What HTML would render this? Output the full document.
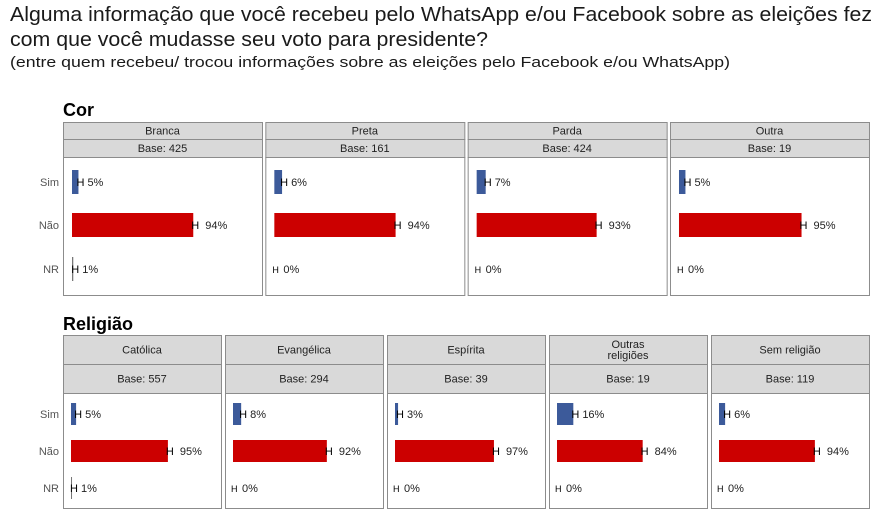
<!DOCTYPE html>
<html><head><meta charset="utf-8"><style>
body{margin:0;background:#fff;}
svg{display:block;font-family:"Liberation Sans",sans-serif;}
</style></head><body>
<svg id="chart" width="891" height="517" viewBox="0 0 891 517">
<text x="10" y="21" font-size="20" fill="#1a1a1a" textLength="862" lengthAdjust="spacingAndGlyphs">Alguma informação que você recebeu pelo WhatsApp e/ou Facebook sobre as eleições fez</text>
<text x="10" y="46" font-size="20" fill="#1a1a1a" textLength="478" lengthAdjust="spacingAndGlyphs">com que você mudasse seu voto para presidente?</text>
<text x="10" y="67" font-size="15" fill="#1a1a1a" textLength="720" lengthAdjust="spacingAndGlyphs">(entre quem recebeu/ trocou informações sobre as eleições pelo Facebook e/ou WhatsApp)</text>
<text x="63" y="116" font-size="18" font-weight="bold" fill="#000">Cor</text>
<text x="63" y="330" font-size="18" font-weight="bold" fill="#000">Religião</text>
<g id="plots"></g>
</svg>
<script>
const rowLabels = ["Sim","Não","NR"];
const corCats = ["Branca","Preta","Parda","Outra"];
const corBases = [425,161,424,19];
const corSim = [5,6,7,5];
const corNao = [94,94,93,95];
const corNR = [1,0,0,0];
const relCats = [["Católica"],["Evangélica"],["Espírita"],["Outras","religiões"],["Sem religião"]];
const relBases = [557,294,39,19,119];
const relSim = [5,8,3,16,6];
const relNao = [95,92,97,84,94];
const relNR = [1,0,0,0,0];

const NS="http://www.w3.org/2000/svg";
const root=document.getElementById('plots');
function mk(tag,attrs,parent,text){const e=document.createElementNS(NS,tag);for(const k in attrs)e.setAttribute(k,attrs[k]);if(text!==undefined)e.textContent=text;(parent||root).appendChild(e);return e;}

function group(cfg){
  const {cats,bases,sim,nao,nr,x0,pw,gap,h1y,h1h,h2h,plotBot,rowY,barH,scale,inset,prefix}=cfg;
  rowY.forEach((y,i)=>{
    const t=mk('text',{x:x0-4,y:y+4,'font-size':11,fill:'#555','text-anchor':'end'},null,rowLabels[i]);
    
    
  });
  cats.forEach((c,j)=>{
    const x=x0+j*(pw+gap);
    const g=mk('g',{});
    
    
    const hdr=mk('rect',{x:x+0.5,y:h1y+0.5,width:pw,height:h1h,fill:'#d9d9d9',stroke:'#8c8c8c'},g);
    
    
    const lines=Array.isArray(c)?c:[c];
    lines.forEach((l,k)=>{
      const t=mk('text',{x:x+pw/2,y:h1y+h1h/2+4+(k-(lines.length-1)/2)*11,'font-size':11,fill:'#222','text-anchor':'middle'},g,l);
      
      
    });
    const b=mk('rect',{x:x+0.5,y:h1y+h1h+0.5,width:pw,height:h2h,fill:'#d9d9d9',stroke:'#8c8c8c'},g);
    
    
    const bt=mk('text',{x:x+pw/2,y:h1y+h1h+h2h/2+4,'font-size':11,fill:'#222','text-anchor':'middle'},g,'Base: '+bases[j]);
    
    
    const py=h1y+h1h+h2h;
    const pr=mk('rect',{x:x+0.5,y:py+0.5,width:pw,height:plotBot-py,fill:'#fff',stroke:'#8c8c8c'},g);
    
    
    const vals=[sim[j],nao[j],nr[j]];
    const cols=['#3c5a9a','#cc0000','#3c5a9a'];
    vals.forEach((v,i)=>{
      const bx=x+inset, w=v*scale, y=rowY[i];
      const r=mk('rect',{x:bx,y:y-barH/2,width:Math.max(w,v>0?1:0),height:barH,fill:i==2?'#777':cols[i]},g);
      
      
      const e=mk('text',{x:bx+w-2,y:y+4,'font-size':v>0?11:9,fill:'#000'},g,'H');
      
      
      const vt=mk('text',{x:bx+w+(i==1?12:9),y:y+4,'font-size':11,fill:'#222'},g,v+'%');
      
      
    });
  });
}
group({prefix:'cor',cats:corCats,bases:corBases,sim:corSim,nao:corNao,nr:corNR,x0:63,pw:199,gap:3.33,h1y:122,h1h:17,h2h:18,plotBot:295,rowY:[182,225,269],barH:24,scale:1.29,inset:9});
group({prefix:'religiao',cats:relCats,bases:relBases,sim:relSim,nao:relNao,nr:relNR,x0:63,pw:158,gap:4,h1y:335,h1h:29,h2h:29,plotBot:508,rowY:[414,451,488],barH:22,scale:1.02,inset:8});
</script>
</body></html>
